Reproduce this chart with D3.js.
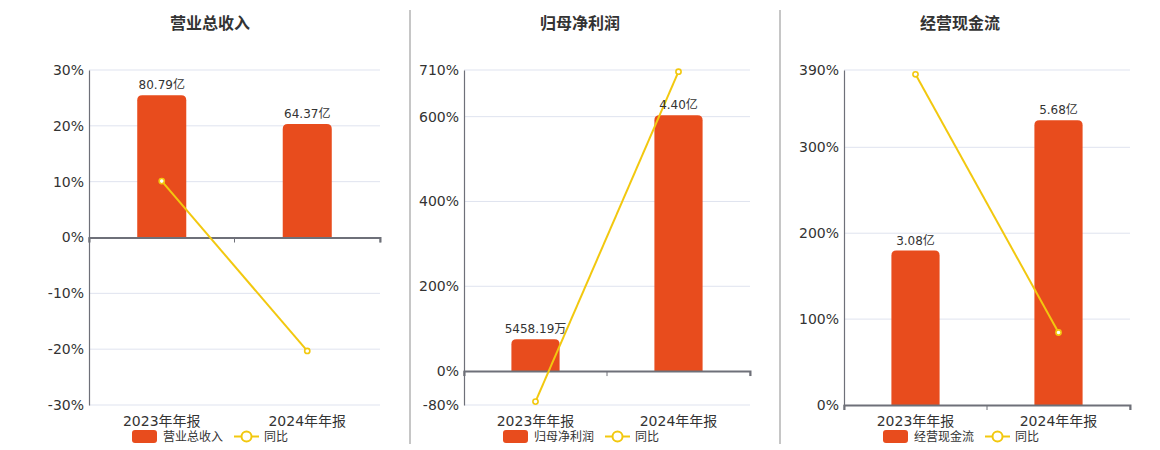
<!DOCTYPE html>
<html><head><meta charset="utf-8">
<script src="https://cdn.jsdelivr.net/npm/d3@7/dist/d3.min.js"></script>
<style>body{margin:0;background:#fff}svg{display:block}</style>
</head><body><svg id="c" width="1160" height="450"></svg>
<script>
const categories = ["2023年年报", "2024年年报"];
const titles = ["营业总收入", "归母净利润", "经营现金流"];
const revenue = [80.79, 64.37];
const revenueLabels = ["80.79亿", "64.37亿"];
const revenueYoY = [10.1, -20.32];
const netProfit = [0.545819, 4.40];
const netProfitLabels = ["5458.19万", "4.40亿"];
const netProfitYoY = [-72, 706];
const cashFlow = [3.08, 5.68];
const cashFlowLabels = ["3.08亿", "5.68亿"];
const cashFlowYoY = [385, 84.4];
const ticks1 = [-30, -20, -10, 0, 10, 20, 30];
const ticks2 = [-80, 0, 200, 400, 600, 710];
const ticks3 = [0, 100, 200, 300, 390];
const yoyName = "同比";

const FONT = "'DejaVu Sans','Noto Sans CJK SC',sans-serif";
const BAR = "#e84c1d", LINE = "#f2c80f";
const svg = d3.select("#c");

const panels = [
  {title: titles[0], bars: revenue, labels: revenueLabels, yoy: revenueYoY, ticks: ticks1, left: 89, right: 380, center: 210, legendX: 132},
  {title: titles[1], bars: netProfit, labels: netProfitLabels, yoy: netProfitYoY, ticks: ticks2, left: 464, right: 750, center: 580, legendX: 503},
  {title: titles[2], bars: cashFlow, labels: cashFlowLabels, yoy: cashFlowYoY, ticks: ticks3, left: 844, right: 1130, center: 960, legendX: 883}
];

// separators
[410, 780].forEach(x => svg.append("line").attr("x1", x).attr("x2", x).attr("y1", 10).attr("y2", 444)
  .attr("stroke", "#a0a0a0").attr("stroke-width", 1.2));

panels.forEach(p => {
  const g = svg.append("g");
  const top = 70, bottom = 405;
  const dom = d3.extent(p.ticks);
  const y = d3.scaleLinear().domain(dom).range([bottom, top]);
  const x = d3.scaleBand().domain(categories).range([p.left, p.right]);
  const y0 = y(0);
  const bmax = d3.max(p.bars);
  const yb = d3.scaleLinear().domain([0, bmax / 0.85]).range([y0, top]);

  // title
  g.append("text").attr("x", p.center).attr("y", 29).attr("text-anchor", "middle")
    .attr("font-family", FONT).attr("font-size", 16).attr("font-weight", "bold").attr("fill", "#333").text(p.title);

  // grid
  g.selectAll(".grid").data(p.ticks.filter(t => t !== 0)).enter().append("line")
    .attr("x1", p.left).attr("x2", p.right).attr("y1", d => y(d)).attr("y2", d => y(d))
    .attr("stroke", "#dfe3ef").attr("stroke-width", 1);

  // y axis
  const ya = d3.axisLeft(y).tickValues(p.ticks).tickFormat(d => d + "%").tickSize(0).tickPadding(5);
  const yg = g.append("g").attr("transform", `translate(${p.left},0)`).call(ya);
  yg.select(".domain").attr("stroke", "#6e7079").attr("stroke-width", 1.2);
  yg.selectAll("text").attr("font-family", FONT).attr("font-size", 14).attr("fill", "#333");

  // bars
  const bw = x.bandwidth() * 0.337;
  const r = 5;
  g.selectAll(".bar").data(p.bars).enter().append("path")
    .attr("fill", BAR)
    .attr("d", (d, i) => {
      const cx = x(categories[i]) + x.bandwidth() / 2;
      const x0 = cx - bw / 2, x1 = cx + bw / 2, yt = yb(d);
      return `M${x0},${y0}V${yt + r}Q${x0},${yt} ${x0 + r},${yt}H${x1 - r}Q${x1},${yt} ${x1},${yt + r}V${y0}Z`;
    });

  // x axis at zero
  const xa = d3.axisBottom(x).tickSize(5).tickFormat(() => "");
  const xg = g.append("g").attr("transform", `translate(0,${y0})`).call(xa);
  xg.select(".domain").attr("stroke", "#6e7079").attr("stroke-width", 2);
  xg.selectAll(".tick line").attr("stroke", "#6e7079");
  // tick at band edges
  xg.selectAll(".tick").remove();
  [p.left, x(categories[1]), p.right].forEach(tx => xg.append("line").attr("x1", tx).attr("x2", tx).attr("y1", 0).attr("y2", 5).attr("stroke", "#6e7079"));

  // x labels at bottom
  g.selectAll(".xl").data(categories).enter().append("text")
    .attr("x", d => x(d) + x.bandwidth() / 2).attr("y", 426).attr("text-anchor", "middle")
    .attr("font-family", FONT).attr("font-size", 14).attr("fill", "#333").text(d => d);

  // line
  const line = d3.line().x((d, i) => x(categories[i]) + x.bandwidth() / 2).y(d => y(d));
  g.append("path").datum(p.yoy).attr("d", line).attr("fill", "none").attr("stroke", LINE).attr("stroke-width", 2);
  g.selectAll(".pt").data(p.yoy).enter().append("circle")
    .attr("cx", (d, i) => x(categories[i]) + x.bandwidth() / 2).attr("cy", d => y(d)).attr("r", 2.6)
    .attr("fill", "#fff").attr("stroke", LINE).attr("stroke-width", 1.6);

  // bar labels
  g.selectAll(".bl").data(p.bars).enter().append("text")
    .attr("x", (d, i) => x(categories[i]) + x.bandwidth() / 2).attr("y", d => yb(d) - 6)
    .attr("text-anchor", "middle").attr("font-family", FONT).attr("font-size", 12).attr("fill", "#333")
    .text((d, i) => p.labels[i]);

  // legend
  const lx = p.legendX, ly = 436.5;
  g.append("rect").attr("x", lx).attr("y", ly - 6.5).attr("width", 25).attr("height", 13).attr("rx", 3).attr("fill", BAR);
  const t1 = g.append("text").attr("x", lx + 31).attr("y", ly + 4.5).attr("font-family", FONT).attr("font-size", 12).attr("fill", "#333").text(p.title);
  const w = t1.node().getComputedTextLength();
  const l2 = lx + 31 + w + 11;
  g.append("line").attr("x1", l2).attr("x2", l2 + 25).attr("y1", ly).attr("y2", ly).attr("stroke", LINE).attr("stroke-width", 2);
  g.append("circle").attr("cx", l2 + 12.5).attr("cy", ly).attr("r", 5).attr("fill", "#fff").attr("stroke", LINE).attr("stroke-width", 2);
  g.append("text").attr("x", l2 + 30).attr("y", ly + 4.5).attr("font-family", FONT).attr("font-size", 12).attr("fill", "#333").text(yoyName);
});
</script></body></html>
